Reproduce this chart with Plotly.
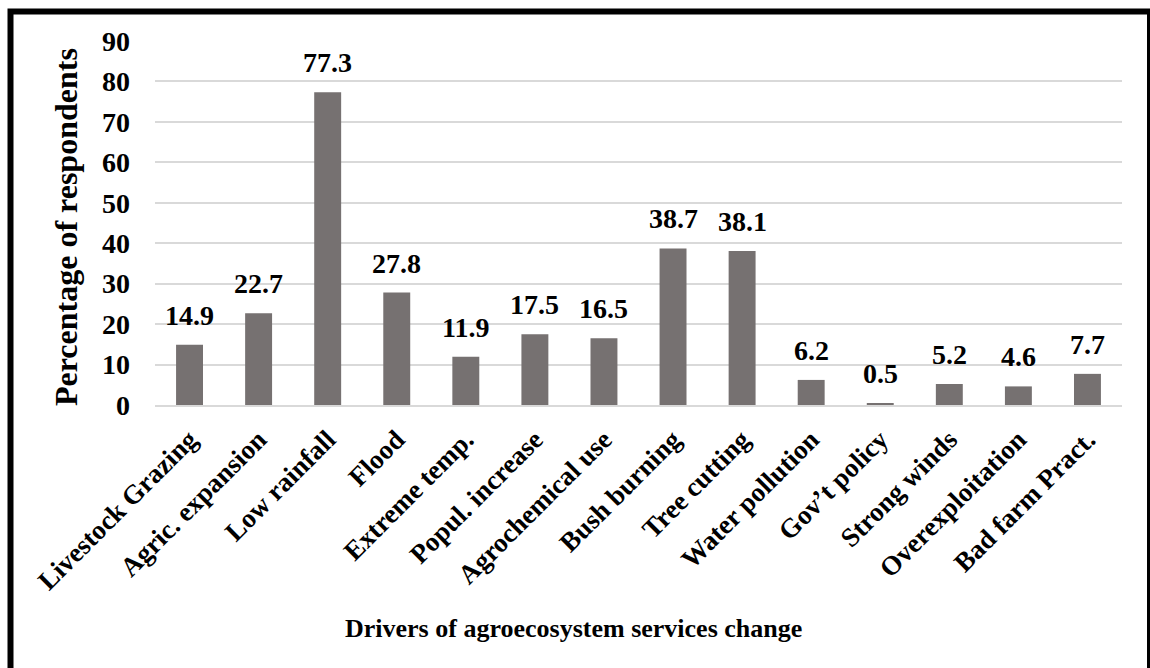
import plotly.graph_objects as go

categories = ["Livestock Grazing", "Agric. expansion", "Low rainfall", "Flood",
              "Extreme temp.", "Popul. increase", "Agrochemical use", "Bush burning",
              "Tree cutting", "Water pollution", "Gov\u2019t policy", "Strong winds",
              "Overexploitation", "Bad farm Pract."]
values = [14.9, 22.7, 77.3, 27.8, 11.9, 17.5, 16.5, 38.7, 38.1, 6.2, 0.5, 5.2, 4.6, 7.7]
y_ticks = [0, 10, 20, 30, 40, 50, 60, 70, 80, 90]

FONT = "Liberation Serif"

fig = go.Figure()
fig.add_trace(go.Bar(
    x=categories, y=values,
    marker=dict(color="#767171", line=dict(width=0)),
    hoverinfo="x+y",
))

annotations = [
    dict(x=c, y=v, xref="x", yref="y", text=f"<b>{v:.1f}</b>", showarrow=False,
         yanchor="bottom", xanchor="center", yshift=12,
         font=dict(family=FONT, size=28, color="black"))
    for c, v in zip(categories, values)
]
annotations += [
    dict(text="<b>Percentage of respondents</b>", xref="paper", yref="paper",
         x=(66 - 155) / 967, y=(405 - 227) / 364, textangle=-90, showarrow=False,
         font=dict(family=FONT, size=32, color="black"),
         xanchor="center", yanchor="middle"),
    dict(text="<b>Drivers of agroecosystem services change</b>", xref="paper", yref="paper",
         x=(573 - 155) / 967, y=(405 - 628) / 364, showarrow=False,
         font=dict(family=FONT, size=26, color="black"),
         xanchor="center", yanchor="middle"),
]

fig.update_layout(
    width=1150, height=668,
    margin=dict(l=155, r=28, t=41, b=263, autoexpand=False),
    paper_bgcolor="white", plot_bgcolor="white",
    bargap=0.61,
    showlegend=False,
    font=dict(family=FONT, color="black"),
    xaxis=dict(
        tickangle=-45,
        tickvals=categories,
        ticktext=[f"<b>{c}</b>" for c in categories],
        tickfont=dict(family=FONT, size=27, color="black"),
        showline=True, linecolor="#d9d9d9", linewidth=2,
        showgrid=False, ticks="", ticklabelstandoff=6,
    ),
    yaxis=dict(
        range=[0, 90],
        tickvals=y_ticks,
        ticktext=[f"<b>{v}</b>" for v in y_ticks],
        tickfont=dict(family=FONT, size=28, color="black"),
        showgrid=True, gridcolor="#d9d9d9", gridwidth=2,
        zeroline=False, showline=False, ticks="",
        ticklabelstandoff=24,
    ),
    shapes=[dict(type="rect", xref="paper", yref="paper",
                 x0=(10.5 - 155) / 967, x1=(1150 - 155) / 967,
                 y0=-0.76, y1=(405 - 11.5) / 364,
                 line=dict(color="black", width=6), fillcolor="rgba(0,0,0,0)")],
    annotations=annotations,
)

fig.write_html(
    "out.html",
    config=dict(displayModeBar=False),
    post_script="document.body.style.margin='0';document.body.style.overflow='hidden';",
)
